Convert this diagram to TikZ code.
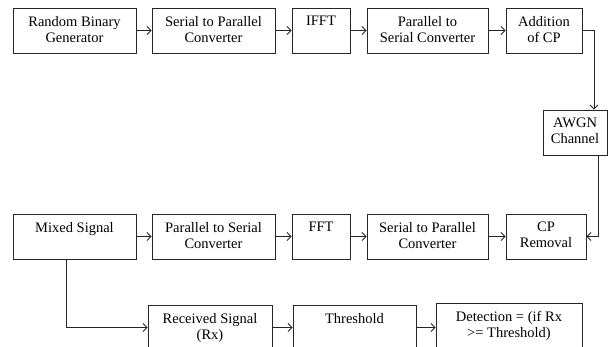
\documentclass[tikz,border=0pt]{standalone}
\usepackage{fontspec}
\setmainfont{Liberation Serif}
\usetikzlibrary{arrows.meta}

\begin{document}
\begin{tikzpicture}[
    x = 1pt, y = -1pt,
    line width = 0.9pt, draw = black!85,
    > = {Straight Barb[length=4pt, width=8pt]},
    every node/.style = {inner sep = 0pt},
    block/.style = {draw = black!85, rectangle, minimum height = 45pt},
    blocktext/.style = {anchor = north, yshift = -8pt, align = center,
                        font = \fontsize{14.5}{16}\selectfont}
  ]
  \clip (0,0) rectangle (608,347);

  % Transmitter
  \node[block, minimum width = 123pt, label = {[blocktext]north:Random Binary\\Generator}] (rbg)  at (74.5, 30.5) {};
  \node[block, minimum width = 123pt, label = {[blocktext]north:Serial to Parallel\\Converter}] (sp1) at (213.5, 30.5) {};
  \node[block, minimum width = 58pt,  label = {[blocktext]north:IFFT}] (ifft) at (321, 30.5) {};
  \node[block, minimum width = 121pt, label = {[blocktext]north:Parallel to\\Serial Converter}] (ps1) at (427.5, 30.5) {};
  \node[block, minimum width = 76pt,  label = {[blocktext]north:Addition\\of CP}] (acp) at (544, 30.5) {};

  % Channel
  \node[block, minimum width = 64pt,  label = {[blocktext]north:AWGN\\Channel}] (awgn) at (575, 132.5) {};

  % Receiver
  \node[block, minimum width = 123pt, label = {[blocktext]north:Mixed Signal}] (mix) at (74.5, 236.5) {};
  \node[block, minimum width = 123pt, label = {[blocktext]north:Parallel to Serial\\Converter}] (ps2) at (213.5, 236.5) {};
  \node[block, minimum width = 58pt,  label = {[blocktext]north:FFT}] (fft) at (321, 236.5) {};
  \node[block, minimum width = 121pt, label = {[blocktext]north:Serial to Parallel\\Converter}] (sp2) at (427.5, 236.5) {};
  \node[block, minimum width = 80pt,  label = {[blocktext]north:CP\\Removal}] (cpr) at (546, 236.5) {};

  % Detection
  \node[block, minimum width = 124pt, label = {[blocktext]north:Received Signal\\(Rx)}] (rx) at (210, 327.5) {};
  \node[block, minimum width = 123pt, label = {[blocktext]north:Threshold}] (thr) at (354.5, 327.5) {};
  \node[block, minimum width = 146pt, label = {[blocktext]north:Detection = (if Rx\\>= Threshold)}] (det) at (509, 325.5) {};

  % Connectors
  \draw[->] (rbg) -- (sp1);
  \draw[->] (sp1) -- (ifft);
  \draw[->] (ifft) -- (ps1);
  \draw[->] (ps1) -- (acp);
  \draw[->] (acp.east) -| ([xshift=19pt]awgn.north);
  \draw[->] ([xshift=23pt]awgn.south) |- (cpr.east);
  \draw[->] (mix) -- (ps2);
  \draw[->] (ps2) -- (fft);
  \draw[->] (fft) -- (sp2);
  \draw[->] (sp2) -- (cpr);
  \draw[->] ([xshift=-8pt]mix.south) |- (rx.west);
  \draw[->] (rx) -- (thr);
  \draw[->] (thr.east) -- (det.west |- thr.east);
\end{tikzpicture}
\end{document}
